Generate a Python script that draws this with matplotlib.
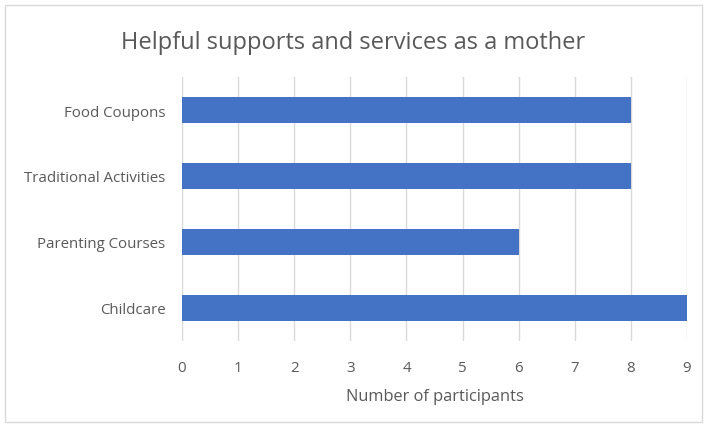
import matplotlib.pyplot as plt
from matplotlib.patches import Rectangle

# Data
categories = ["Childcare", "Parenting Courses", "Traditional Activities", "Food Coupons"]
participants = [9, 6, 8, 8]
ticks = list(range(0, 10))

plt.rcParams['font.family'] = ['Open Sans', 'DejaVu Sans']

fig = plt.figure(figsize=(7.06, 4.27), dpi=100)
ax = fig.add_axes([182/706, 1 - 342/427, (687 - 182)/706, (342 - 78)/427])

ax.barh(range(len(categories)), participants, height=0.38, color='#4472C4', zorder=3)

ax.set_xlim(0, 9)
ax.set_ylim(-0.5, len(categories) - 0.5)
ax.set_xticks(ticks)
ax.set_yticks(range(len(categories)))
ax.set_yticklabels(categories)
ax.grid(axis='x', color='#D9D9D9', linewidth=1, zorder=0)
for s in ax.spines.values():
    s.set_visible(False)
ax.tick_params(length=0, labelsize=10.8, colors='#595959')
ax.tick_params(axis='y', pad=12)
ax.tick_params(axis='x', pad=14)

ax.set_xlabel("Number of participants", fontsize=11.8, color='#595959', labelpad=9)
fig.text(0.5, 1 - 43/427, "Helpful supports and services as a mother",
         ha='center', va='center', fontsize=17, color='#595959')

# outer border
fig.patches.append(Rectangle((5/706, 1 - 423/427), 697/706, 417/427,
                             transform=fig.transFigure, fill=False,
                             edgecolor='#D9D9D9', linewidth=1))

fig.savefig("out.png", dpi=100)
